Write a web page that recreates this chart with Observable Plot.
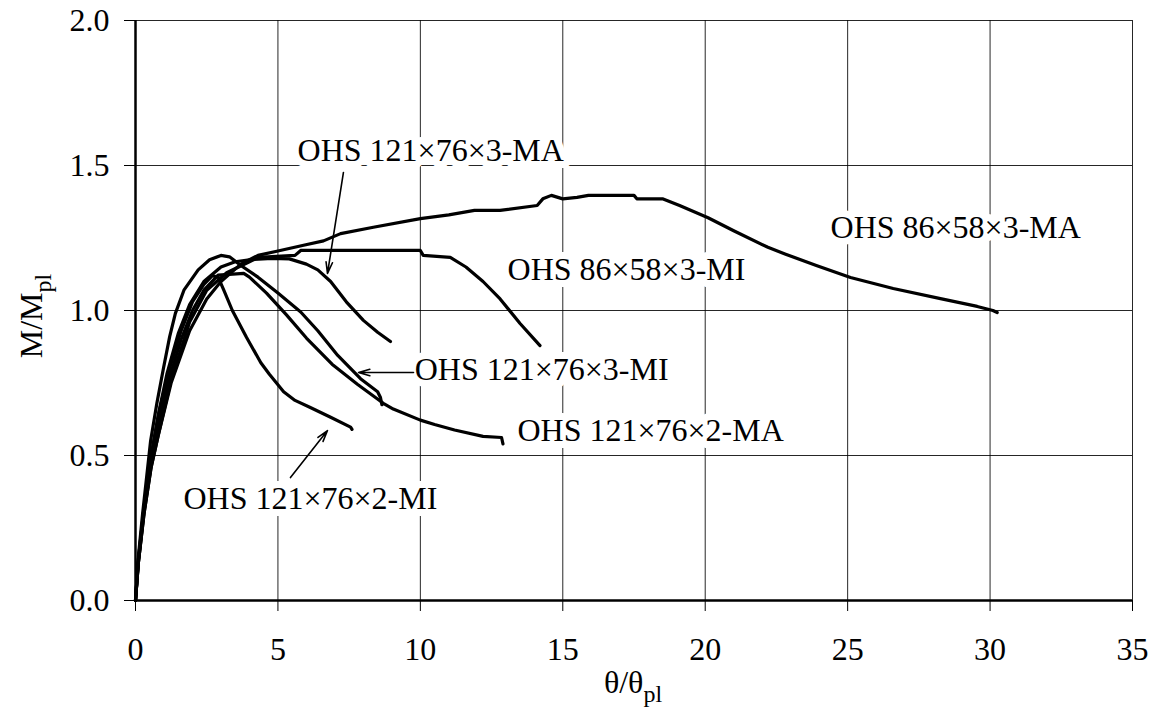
<!DOCTYPE html>
<html><head><meta charset="utf-8">
<script src="https://cdn.jsdelivr.net/npm/d3@7"></script>
<script src="https://cdn.jsdelivr.net/npm/@observablehq/plot@0.6"></script>
<style>
body{margin:0;background:#fff;}
#chart{width:1166px;height:713px;}
</style></head><body><div id="chart"></div>
<script>
// tick values
const xTicks = [0, 5, 10, 15, 20, 25, 30, 35];
const yTicks = [0, 0.5, 1.0, 1.5, 2.0];

// series: [theta/theta_pl, M/M_pl]
const ohs86x58x3MA = [[0,0],[0.1,0.13],[0.3,0.3],[0.55,0.46],[0.8,0.57],[1.25,0.75],[1.9,0.93],[2.5,1.04],[3.0,1.1],[3.7,1.16],[4.3,1.19],[5.0,1.205],[5.9,1.225],[6.6,1.24],[7.2,1.265],[8.35,1.287],[10.0,1.317],[11.0,1.33],[11.9,1.345],[12.8,1.345],[14.1,1.362],[14.3,1.385],[14.6,1.397],[15.0,1.385],[15.5,1.39],[15.9,1.397],[17.5,1.397],[17.6,1.385],[18.5,1.385],[19.1,1.362],[20.1,1.32],[21.0,1.275],[22.2,1.218],[22.8,1.195],[23.9,1.155],[25.1,1.114],[26.6,1.076],[28.3,1.04],[29.55,1.014],[30.1,1.0],[30.25,0.993]];
const ohs86x58x3MI = [[0,0],[0.1,0.13],[0.3,0.3],[0.55,0.46],[0.8,0.57],[1.25,0.76],[1.9,0.96],[2.5,1.07],[3.2,1.13],[4.0,1.168],[4.3,1.183],[5.6,1.19],[5.8,1.207],[10.0,1.207],[10.1,1.19],[11.05,1.183],[11.6,1.15],[12.2,1.1],[12.8,1.04],[13.5,0.955],[14.2,0.879]];
const ohs121x76x3MA = [[0,0],[0.1,0.14],[0.3,0.32],[0.55,0.5],[0.8,0.64],[1.1,0.78],[1.5,0.92],[1.9,1.02],[2.4,1.1],[3.0,1.15],[3.5,1.168],[4.0,1.175],[4.8,1.18],[5.4,1.178],[6.0,1.16],[6.4,1.14],[6.85,1.1],[7.4,1.03],[8.0,0.966],[8.5,0.925],[8.95,0.893]];
const ohs121x76x3MI = [[0,0],[0.1,0.15],[0.25,0.3],[0.53,0.55],[0.75,0.68],[0.98,0.8],[1.2,0.91],[1.4,0.99],[1.7,1.07],[2.2,1.14],[2.6,1.175],[3.0,1.19],[3.3,1.185],[3.7,1.155],[4.3,1.115],[5.0,1.06],[5.8,0.995],[6.4,0.93],[7.1,0.845],[7.9,0.765],[8.5,0.72],[8.6,0.70],[8.65,0.675]];
const ohs121x76x2MA = [[0,0],[0.1,0.13],[0.3,0.31],[0.6,0.5],[0.9,0.65],[1.2,0.77],[1.6,0.9],[2.0,1.0],[2.4,1.07],[2.9,1.122],[3.8,1.128],[4.0,1.115],[4.6,1.06],[5.3,0.985],[6.0,0.905],[6.9,0.815],[7.8,0.745],[8.7,0.68],[9.05,0.66],[10.0,0.622],[10.5,0.607],[11.2,0.588],[12.2,0.566],[12.85,0.562],[12.9,0.54]];
const ohs121x76x2MI = [[0,0],[0.1,0.14],[0.3,0.32],[0.55,0.5],[0.85,0.66],[1.2,0.8],[1.6,0.93],[2.0,1.03],[2.4,1.09],[2.7,1.12],[2.9,1.115],[3.1,1.07],[3.4,1.0],[3.9,0.907],[4.4,0.82],[4.7,0.78],[5.2,0.72],[5.6,0.69],[6.1,0.667],[6.85,0.632],[7.55,0.598],[7.6,0.59]];

const seriesNames = ["OHS 86×58×3-MA","OHS 86×58×3-MI","OHS 121×76×3-MA","OHS 121×76×3-MI","OHS 121×76×2-MA","OHS 121×76×2-MI"];
const seriesData = [ohs86x58x3MA, ohs86x58x3MI, ohs121x76x3MA, ohs121x76x3MI, ohs121x76x2MA, ohs121x76x2MI];

// annotation labels (anchor at left/middle of text)
const labelText = ["OHS 121×76×3-MA","OHS 86×58×3-MI","OHS 86×58×3-MA","OHS 121×76×3-MI","OHS 121×76×2-MA","OHS 121×76×2-MI"];
const labelX = [5.69, 13.06, 24.4, 9.8, 13.41, 1.685];
const labelY = [1.552, 1.139, 1.287, 0.794, 0.587, 0.352];

// annotation arrows: from (x1,y1) to head at (x2,y2)
const arrowX1 = [7.30, 9.76, 5.44];
const arrowY1 = [1.476, 0.786, 0.424];
const arrowX2 = [6.74, 7.83, 6.74];
const arrowY2 = [1.128, 0.786, 0.586];

const rows = seriesData.flatMap((pts, i) => pts.map(([x, y]) => ({series: seriesNames[i], x, y})));
const labels = labelText.map((t, i) => ({text: t, x: labelX[i], y: labelY[i]}));
const arrows = arrowX1.map((x1, i) => ({x1, y1: arrowY1[i], x2: arrowX2[i], y2: arrowY2[i]}));

const font = "'Liberation Serif','Times New Roman',Times,serif";

const chart = Plot.plot({
  width: 1166, height: 713,
  marginLeft: 135, marginRight: 34, marginTop: 20, marginBottom: 113,
  style: {fontFamily: font, fontSize: "32px", color: "#000", background: "#fff", overflow: "visible"},
  x: {domain: [0, 35], label: null},
  y: {domain: [0, 2], label: null},
  marks: [
    Plot.gridX(xTicks, {stroke: "#000", strokeOpacity: 0.85, strokeWidth: 1}),
    Plot.gridY(yTicks, {stroke: "#000", strokeOpacity: 0.85, strokeWidth: 1}),
    Plot.axisX(xTicks, {tickSize: 11, tickPadding: 26, tickFormat: d => String(d), label: null, stroke: "#000"}),
    Plot.axisY(yTicks, {tickSize: 11, tickPadding: 15, tickFormat: d3.format(".1f"), label: null, stroke: "#000"}),
    Plot.text(labels, {x: "x", y: "y", text: "text", textAnchor: "start", fill: "#000",
      stroke: "#fff", strokeWidth: 14, strokeLinejoin: "round", paintOrder: "stroke", fontSize: 32}),
    Plot.ruleX([0], {stroke: "#000", strokeWidth: 2.5}),
    Plot.ruleY([0], {stroke: "#000", strokeWidth: 2.5}),
    Plot.arrow(arrows, {x1: "x1", y1: "y1", x2: "x2", y2: "y2", stroke: "#000", strokeWidth: 1.6, headLength: 11, headAngle: 32}),
    Plot.line(rows, {x: "x", y: "y", z: "series", stroke: "#000", strokeWidth: 3.2, strokeLinejoin: "round"})
  ]
});

document.getElementById("chart").appendChild(chart);

// axis titles with subscripts
const svg = d3.select(chart);
const xt = svg.append("text")
  .attr("x", 633).attr("y", 693)
  .attr("text-anchor", "middle")
  .attr("font-family", font).attr("font-size", 32).attr("fill", "#000");
xt.append("tspan").text("θ/θ");
xt.append("tspan").attr("font-size", 24).attr("dy", 9).text("pl");

const yt = svg.append("text")
  .attr("transform", "translate(42,316) rotate(-90)")
  .attr("text-anchor", "middle")
  .attr("font-family", font).attr("font-size", 32).attr("fill", "#000");
yt.append("tspan").text("M/M");
yt.append("tspan").attr("font-size", 24).attr("dy", 9).text("pl");
</script>
</body></html>
